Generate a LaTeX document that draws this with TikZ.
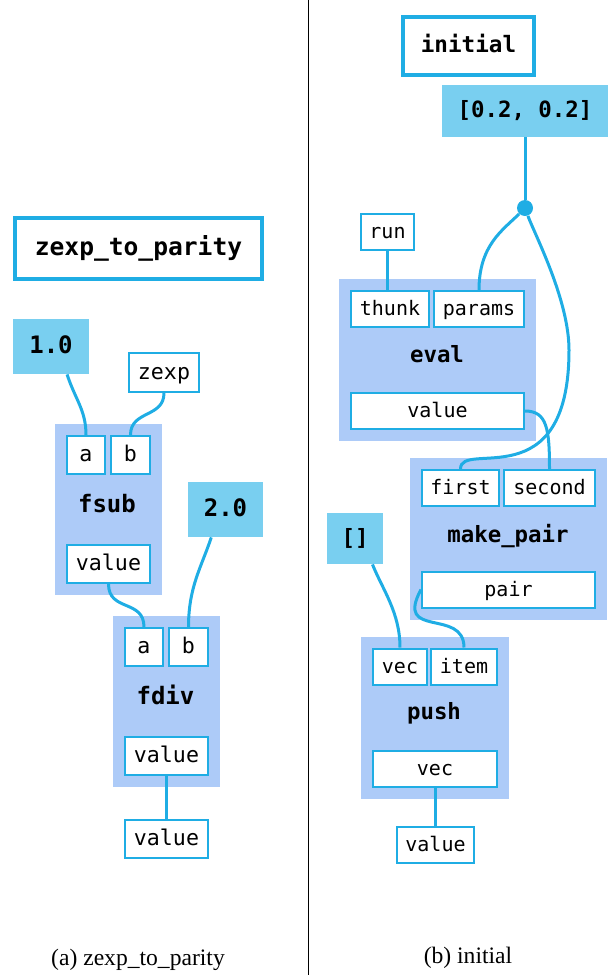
\documentclass[tikz,border=0pt]{standalone}
\usepackage{fontspec}
\setmainfont{Liberation Serif}
\setmonofont{DejaVu Sans Mono}
\usetikzlibrary{fit,backgrounds}

\definecolor{wireblue}{HTML}{1FADE4}
\definecolor{constblue}{HTML}{79CFF0}
\definecolor{opblue}{HTML}{ADCBF8}

\tikzset{
  wire/.style={draw=wireblue, line width=1.5pt},
  port/.style={draw=wireblue, fill=white, line width=1pt, inner sep=0pt, minimum height=19pt,
               text height=0.78em, text depth=0.1em,
               font=\ttfamily\fontsize{10.8}{13}\selectfont},
  const/.style={fill=constblue, inner sep=0pt, text height=0.78em, text depth=0.1em,
                font=\ttfamily\bfseries\fontsize{12}{14}\selectfont},
  graphname/.style={draw=wireblue, line width=2pt, fill=white, inner sep=0pt,
                    text height=0.78em, text depth=0.1em,
                    font=\ttfamily\bfseries\fontsize{12.3}{14}\selectfont},
  opbox/.style={fill=opblue, inner sep=5.5pt},
  opname/.style={text height=0.78em, text depth=0.1em, font=\ttfamily\bfseries\fontsize{12}{14}\selectfont},
  split/.style={circle, fill=wireblue, inner sep=0pt, minimum size=8pt},
  caption/.style={font=\fontsize{11.8}{14}\selectfont},
}

\begin{document}
\begin{tikzpicture}[x=0.5pt, y=-0.5pt]
  \useasboundingbox (0,0) rectangle (609,975);
  \draw[line width=0.5pt] (308,0) -- (308,975);

  % (a) zexp_to_parity
  \node[graphname, minimum width=123.5pt, minimum height=30.5pt] (zgraph) at (138.5,248.5) {zexp\_to\_parity};
  \node[const, minimum width=38pt, minimum height=27.5pt] (one) at (51,346.5) {1.0};
  \node[port, minimum width=35pt, minimum height=19.5pt] (zexp) at (164,372.5) {zexp};
  \node[port, minimum width=19pt] (fsub-a) at (86,455) {a};
  \node[port, minimum width=19.5pt] (fsub-b) at (130.5,455) {b};
  \node[port, minimum width=41.5pt] (fsub-v) at (108.5,564) {value};
  \node[const, minimum width=37.5pt, minimum height=27.5pt] (two) at (225.5,509.5) {2.0};
  \node[port, minimum width=19pt] (fdiv-a) at (144,647) {a};
  \node[port, minimum width=19.5pt] (fdiv-b) at (188.5,647) {b};
  \node[port, minimum width=41.5pt] (fdiv-v) at (166.5,756) {value};
  \node[port, minimum width=41.5pt] (zout) at (166.5,839) {value};
  \begin{scope}[on background layer]
    \node[opbox, fit=(fsub-a)(fsub-b)(fsub-v)] (fsub) {};
    \node[opbox, fit=(fdiv-a)(fdiv-b)(fdiv-v)] (fdiv) {};
  \end{scope}
  \node[opname] (fsub-name) at (107,506) {fsub};
  \node[opname] (fdiv-name) at (165.5,698) {fdiv};
  \node[caption] (cap-a) at (138,960) {(a) zexp\_to\_parity};

  \draw[wire] (one.-60) .. controls +(8,25) and +(0,-25) .. (fsub-a.north);
  \draw[wire] (zexp.south) .. controls +(0,25) and +(0,-25) .. (fsub-b.north);
  \draw[wire] (fsub-v.south) .. controls +(0,28) and +(0,-28) .. (fdiv-a.north);
  \draw[wire] (two.-117) .. controls +(-10,30) and +(0,-40) .. (fdiv-b.north);
  \draw[wire] (fdiv-v) -- (zout);

  % (b) initial
  \begin{scope}[port/.append style={minimum height=18pt, font=\ttfamily\fontsize{10}{12}\selectfont},
                const/.append style={font=\ttfamily\bfseries\fontsize{11.2}{13}\selectfont},
                opname/.append style={font=\ttfamily\bfseries\fontsize{11.2}{13}\selectfont}]
    \node[graphname, minimum width=65.5pt, minimum height=29pt,
          font=\ttfamily\bfseries\fontsize{11.3}{13}\selectfont] (igraph) at (468.5,46) {initial};
    \node[const, minimum width=83pt, minimum height=26pt] (pairval) at (525,111) {[0.2, 0.2]};
    \node[split] (fork) at (525,208) {};
    \node[port, minimum width=26.5pt] (run) at (387.5,232) {run};
    \node[port, minimum width=39pt] (thunk) at (390,309) {thunk};
    \node[port, minimum width=45pt] (params) at (479,309) {params};
    \node[port, minimum width=86.5pt] (eval-v) at (437.5,411) {value};
    \node[port, minimum width=38.5pt] (first) at (460.5,488) {first};
    \node[port, minimum width=45.5pt] (second) at (549.5,488) {second};
    \node[port, minimum width=86.5pt] (pair) at (508.5,589.5) {pair};
    \node[const, minimum width=28pt, minimum height=25.5pt] (empty) at (355,538.5) {[]};
    \node[port, minimum width=27pt] (vec) at (400,666.5) {vec};
    \node[port, minimum width=33pt] (item) at (464,666.5) {item};
    \node[port, minimum width=62pt] (push-v) at (435,769) {vec};
    \node[port, minimum width=38.5pt] (iout) at (435.5,845) {value};
    \begin{scope}[on background layer]
      \node[opbox, fit=(thunk)(params)(eval-v)] (eval) {};
      \node[opbox, fit=(first)(second)(pair)] (mkpair) {};
      \node[opbox, fit=(vec)(item)(push-v)] (push) {};
    \end{scope}
    \node[opname] (eval-name) at (437,356) {eval};
    \node[opname] (mkpair-name) at (508,536) {make\_pair};
    \node[opname] (push-name) at (434,713) {push};
  \end{scope}
  \node[caption] (cap-b) at (468,958) {(b) initial};

  \draw[wire] (pairval.south) -- (fork);
  \draw[wire] (fork) .. controls +(-22,22) and +(0,-45) .. (params.north);
  \draw[wire] (fork) .. controls +(10,27) and +(0,-50) .. ++(44,142)
                     .. controls +(0,150) and +(0,-30) .. (first.north);
  \draw[wire] (run.south) -- (run.south |- thunk.north);
  \draw[wire] (eval-v.east) .. controls +(22,0) and +(0,-40) .. (second.north);
  \draw[wire] (pair.west) .. controls +(-27,50) and +(0,-40) .. (item.north);
  \draw[wire] (empty.-56) .. controls +(10,25) and +(0,-35) .. (vec.north);
  \draw[wire] (push-v.south) -- (push-v.south |- iout.north);
\end{tikzpicture}
\end{document}
